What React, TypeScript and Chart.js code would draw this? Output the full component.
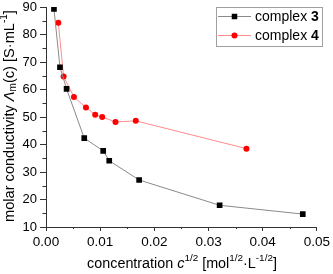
import React, { useEffect, useRef } from "react";
import { Chart, registerables } from "chart.js";

Chart.register(...registerables);

const complex3X = [0.00147, 0.00258, 0.0038, 0.00706, 0.01056, 0.01167, 0.01719, 0.03205, 0.0474];
const complex3Y = [89.3, 68.1, 60.2, 42.3, 37.7, 34.1, 27.1, 17.9, 14.7];
const complex4X = [0.00227, 0.00325, 0.00516, 0.00737, 0.00908, 0.01037, 0.01283, 0.01657, 0.037];
const complex4Y = [84.3, 64.7, 57.3, 53.5, 50.8, 50.0, 48.2, 48.6, 38.5];
const xMin = 0, xMax = 0.05, xStep = 0.01;
const yMin = 10, yMax = 90, yStep = 10;
const seriesNames = ["complex ", "complex "];
const seriesBold = ["3", "4"];

const FONT = "Liberation Sans, Arial, sans-serif";
const AXIS = "#333333";
const C3_LINE = "#8a8a8a";
const C3_PT = "#000000";
const C4_LINE = "#ff8c8c";
const C4_PT = "#ff0000";

type Seg = { t: string; size: number; dy: number; style?: string };

function drawRich(ctx: CanvasRenderingContext2D, segs: Seg[], cx: number, cy: number, targetW: number) {
  const measure = (k: number) => {
    let total = 0;
    const widths: number[] = [];
    for (const s of segs) {
      ctx.font = `${s.style || ""} ${s.size * k}px ${FONT}`;
      const w = ctx.measureText(s.t).width;
      widths.push(w);
      total += w;
    }
    return { total, widths };
  };
  const first = measure(1);
  const k = targetW / first.total;
  const { total, widths } = measure(k);
  let x = cx - total / 2;
  ctx.textBaseline = "middle";
  ctx.textAlign = "left";
  segs.forEach((s, i) => {
    ctx.font = `${s.style || ""} ${s.size * k}px ${FONT}`;
    ctx.fillText(s.t, x, cy + s.dy * k);
    x += widths[i];
  });
}

const extras = {
  id: "extras",
  afterDraw(chart: any) {
    const ctx: CanvasRenderingContext2D = chart.ctx;
    const xs = chart.scales.x;
    const ys = chart.scales.y;
    const area = chart.chartArea;
    ctx.save();
    // minor ticks
    ctx.strokeStyle = AXIS;
    ctx.lineWidth = 1;
    ctx.beginPath();
    for (let v = xMin + xStep / 2; v < xMax; v += xStep) {
      const px = Math.round(xs.getPixelForValue(v)) + 0.5;
      ctx.moveTo(px, area.bottom);
      ctx.lineTo(px, area.bottom + 2);
    }
    for (let v = yMin + yStep / 2; v < yMax; v += yStep) {
      const py = Math.round(ys.getPixelForValue(v)) + 0.5;
      ctx.moveTo(area.left, py);
      ctx.lineTo(area.left - 3.5, py);
    }
    ctx.stroke();

    ctx.fillStyle = "#000";
    // x title
    drawRich(
      ctx,
      [
        { t: "concentration ", size: 13, dy: 0 },
        { t: "c", size: 13, dy: 0, style: "italic" },
        { t: "1/2", size: 9, dy: -5 },
        { t: " [mol", size: 13, dy: 0 },
        { t: "1/2", size: 9, dy: -5 },
        { t: "·L", size: 13, dy: 0 },
        { t: "-1/2", size: 9, dy: -5 },
        { t: "]", size: 13, dy: 0 },
      ],
      182,
      264,
      190
    );
    // y title
    ctx.save();
    ctx.translate(10, 116);
    ctx.rotate(-Math.PI / 2);
    drawRich(
      ctx,
      [
        { t: "molar conductivity ", size: 13, dy: 0 },
        { t: "Λ", size: 13, dy: 0, style: "italic" },
        { t: "m", size: 9, dy: 3 },
        { t: "(c) [S·mL", size: 13, dy: 0 },
        { t: "-1", size: 9, dy: -5 },
        { t: "]", size: 13, dy: 0 },
      ],
      0,
      0,
      212
    );
    ctx.restore();

    // legend
    const bx = 216.5, by = 7.5, bw = 106, bh = 39;
    ctx.strokeStyle = "#a0a0a0";
    ctx.lineWidth = 1;
    ctx.strokeRect(bx, by, bw, bh);
    const rows = [16.5, 35.5];
    const lineCols = [C3_LINE, C4_LINE];
    const ptCols = [C3_PT, C4_PT];
    rows.forEach((ry, i) => {
      ctx.strokeStyle = lineCols[i];
      ctx.beginPath();
      ctx.moveTo(218, ry);
      ctx.lineTo(251, ry);
      ctx.stroke();
      ctx.fillStyle = ptCols[i];
      if (i === 0) {
        ctx.fillRect(234.5 - 2.75, ry - 2.75, 5.5, 5.5);
      } else {
        ctx.beginPath();
        ctx.arc(234.5, ry, 3, 0, Math.PI * 2);
        ctx.fill();
      }
      ctx.fillStyle = "#000";
      ctx.textBaseline = "middle";
      ctx.textAlign = "left";
      ctx.font = `14px ${FONT}`;
      const w = ctx.measureText(seriesNames[i]).width;
      ctx.fillText(seriesNames[i], 255, ry + 0.5);
      ctx.font = `bold 14px ${FONT}`;
      ctx.fillText(seriesBold[i], 255 + w, ry + 0.5);
    });
    ctx.restore();
  },
};

export default function App() {
  const ref = useRef<HTMLCanvasElement>(null);
  useEffect(() => {
    document.body.style.margin = "0";
    const canvas = ref.current!;
    const chart = new Chart(canvas, {
      type: "line",
      data: {
        datasets: [
          {
            label: "complex 3",
            data: complex3X.map((x, i) => ({ x, y: complex3Y[i] })),
            borderColor: C3_LINE,
            borderWidth: 1,
            pointStyle: "rect",
            pointRadius: 4,
            pointBackgroundColor: C3_PT,
            pointBorderWidth: 0,
            pointBorderColor: C3_PT,
            tension: 0,
          },
          {
            label: "complex 4",
            data: complex4X.map((x, i) => ({ x, y: complex4Y[i] })),
            borderColor: C4_LINE,
            borderWidth: 1,
            pointStyle: "circle",
            pointRadius: 3,
            pointBackgroundColor: C4_PT,
            pointBorderWidth: 0,
            pointBorderColor: C4_PT,
            tension: 0,
          },
        ],
      },
      options: {
        responsive: false,
        animation: false,
        devicePixelRatio: 1,
        layout: { padding: { left: 0, right: 15, top: 7, bottom: 0 } },
        plugins: { legend: { display: false }, tooltip: { enabled: false } },
        scales: {
          x: {
            type: "linear",
            min: xMin,
            max: xMax,
            afterFit: (s: any) => {
              s.height = 47;
            },
            ticks: {
              stepSize: xStep,
              color: "#000",
              font: { family: FONT, size: 13.5 },
              padding: 3,
              maxRotation: 0,
              callback: (v: any) => Number(v).toFixed(2),
            },
            grid: { drawOnChartArea: false, drawTicks: true, tickLength: 4, color: AXIS },
            border: { display: true, color: AXIS, width: 1 },
          },
          y: {
            type: "linear",
            min: yMin,
            max: yMax,
            afterFit: (s: any) => {
              s.width = 46;
              s.paddingTop = 0;
              s.paddingBottom = 0;
            },
            ticks: {
              stepSize: yStep,
              color: "#000",
              font: { family: FONT, size: 13 },
              padding: 3,
            },
            grid: { drawOnChartArea: false, drawTicks: true, tickLength: 6, color: AXIS },
            border: { display: true, color: AXIS, width: 1 },
          },
        },
      },
      plugins: [extras],
    } as any);
    return () => chart.destroy();
  }, []);
  return (
    <div style={{ width: 333, height: 274 }}>
      <canvas ref={ref} width={333} height={274} style={{ display: "block" }} />
    </div>
  );
}
